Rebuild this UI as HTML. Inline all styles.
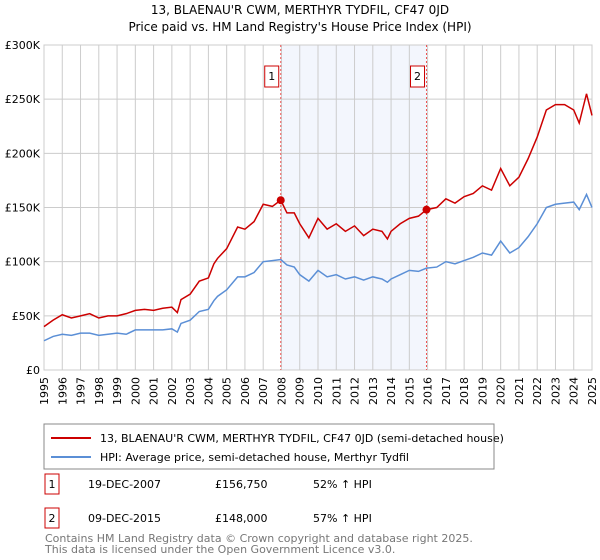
<!DOCTYPE html>
<html><head><meta charset="utf-8"><style>
body{margin:0;background:#fff;font-family:"Liberation Sans","DejaVu Sans",sans-serif;}
#wrap{position:relative;width:600px;height:560px;overflow:hidden;}
</style></head><body><div id="wrap">
<svg id="chart" width="600" height="560" xmlns="http://www.w3.org/2000/svg" font-family="DejaVu Sans, Liberation Sans, sans-serif">
<text x="300" y="14" text-anchor="middle" font-size="12" fill="#000">13, BLAENAU'R CWM, MERTHYR TYDFIL, CF47 0JD</text>
<text x="300" y="31" text-anchor="middle" font-size="12" fill="#000">Price paid vs. HM Land Registry's House Price Index (HPI)</text>
<g id="plot"></g>
<rect x="44" y="424" width="450" height="45" fill="#fff" stroke="#888"/>
<line x1="51" y1="438" x2="91" y2="438" stroke="#cc0000" stroke-width="2"/>
<text x="100" y="442" font-size="11">13, BLAENAU'R CWM, MERTHYR TYDFIL, CF47 0JD (semi-detached house)</text>
<line x1="51" y1="457" x2="91" y2="457" stroke="#5b8fd6" stroke-width="2"/>
<text x="100" y="461" font-size="11">HPI: Average price, semi-detached house, Merthyr Tydfil</text>
<g font-size="11">
<rect x="45" y="474" width="14" height="20" fill="#fff" stroke="#cc0000"/>
<text x="52" y="488" text-anchor="middle">1</text>
<text x="88" y="488">19-DEC-2007</text>
<text x="215" y="488">£156,750</text>
<text x="313" y="488">52% ↑ HPI</text>
<rect x="45" y="508" width="14" height="20" fill="#fff" stroke="#cc0000"/>
<text x="52" y="522" text-anchor="middle">2</text>
<text x="88" y="522">09-DEC-2015</text>
<text x="215" y="522">£148,000</text>
<text x="313" y="522">57% ↑ HPI</text>
</g>
<text x="45" y="542" font-size="11" fill="#777">Contains HM Land Registry data © Crown copyright and database right 2025.</text>
<text x="45" y="553" font-size="11" fill="#777">This data is licensed under the Open Government Licence v3.0.</text>
</svg></div>
<script>
const years=[1995,1995.5,1996,1996.5,1997,1997.5,1998,1998.5,1999,1999.5,2000,2000.5,2001,2001.5,2002,2002.3,2002.5,2003,2003.5,2004,2004.3,2004.5,2005,2005.6,2006,2006.5,2007,2007.5,2007.96,2008.3,2008.7,2009,2009.5,2010,2010.5,2011,2011.5,2012,2012.5,2013,2013.5,2013.8,2014,2014.5,2015,2015.5,2015.94,2016.5,2017,2017.5,2018,2018.5,2019,2019.5,2020,2020.5,2021,2021.5,2022,2022.5,2023,2023.5,2024,2024.3,2024.7,2025];
const priceK=[40,46,51,48,50,52,48,50,50,52,55,56,55,57,58,53,65,70,82,85,98,103,112,132,130,137,153,151,156.75,145,145,135,122,140,130,135,128,133,124,130,128,121,128,135,140,142,148,150,158,154,160,163,170,166,186,170,178,195,215,240,245,245,240,228,255,235];
const hpiK=[27,31,33,32,34,34,32,33,34,33,37,37,37,37,38,35,43,46,54,56,64,68,74,86,86,90,100,101,102,97,95,88,82,92,86,88,84,86,83,86,84,81,84,88,92,91,94,95,100,98,101,104,108,106,119,108,113,123,135,150,153,154,155,148,162,150];
const yTicks=[0,50,100,150,200,250,300];
const yLabels=["£0","£50K","£100K","£150K","£200K","£250K","£300K"];
const xYears=[];for(let y=1995;y<=2025;y++)xYears.push(y);
const sales=[2007.96,2015.94];
const saleValues=[156.75,148];
const L=44,R=592,T=45,B=370,X0=1995,X1=2025;
const xs=v=>L+(v-X0)/(X1-X0)*(R-L);
const ys=v=>B-v/300*(B-T);
const g=document.getElementById('plot');
const NS='http://www.w3.org/2000/svg';
function mk(tag,attrs){const e=document.createElementNS(NS,tag);for(const k in attrs)e.setAttribute(k,attrs[k]);g.appendChild(e);return e;}
let sh=mk('rect',{x:xs(sales[0]),y:T,width:xs(sales[1])-xs(sales[0]),height:B-T,fill:'#f3f6fd'});


xYears.forEach(y=>{const l=mk('line',{x1:xs(y),x2:xs(y),y1:T,y2:B,stroke:'#ccc','stroke-width':1});


const t=mk('text',{x:0,y:0,'font-size':11,'text-anchor':'end',transform:`translate(${xs(y)+4},${B+7}) rotate(-90)`});t.textContent=y;

});
yTicks.forEach((v,i)=>{const l=mk('line',{x1:L,x2:R,y1:ys(v),y2:ys(v),stroke:'#ccc','stroke-width':1});


const t=mk('text',{x:L-4,y:ys(v)+4,'font-size':11,'text-anchor':'end'});t.textContent=yLabels[i];

});
const fr=mk('rect',{x:L,y:T,width:R-L,height:B-T,fill:'none',stroke:'#ccc'});


sales.forEach((s,i)=>{const l=mk('line',{x1:xs(s),x2:xs(s),y1:T,y2:B,stroke:'#e55','stroke-dasharray':'2,2'});


const b=mk('rect',{x:xs(s)-16,y:66,width:14,height:21,fill:'#fff',stroke:'#cc0000'});


const t=mk('text',{x:xs(s)-9,y:80,'font-size':11,'text-anchor':'middle'});t.textContent=i+1;

});
const hp=mk('polyline',{points:years.map((y,i)=>xs(y)+','+ys(hpiK[i])).join(' '),fill:'none',stroke:'#5b8fd6','stroke-width':1.5});


const pp=mk('polyline',{points:years.map((y,i)=>xs(y)+','+ys(priceK[i])).join(' '),fill:'none',stroke:'#cc0000','stroke-width':1.5});


sales.forEach((s,i)=>{const c=mk('circle',{cx:xs(s),cy:ys(saleValues[i]),r:4,fill:'#cc0000'});

});
</script></body></html>
